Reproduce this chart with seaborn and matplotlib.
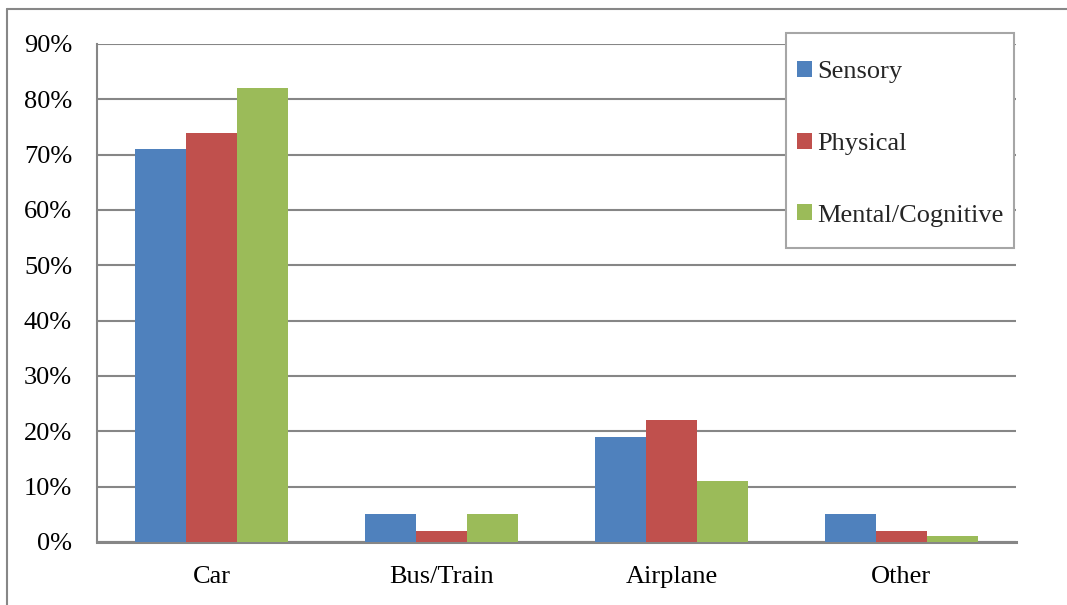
import matplotlib
matplotlib.use("Agg")
import matplotlib.pyplot as plt
from matplotlib.lines import Line2D
from matplotlib.patches import Rectangle
from matplotlib.ticker import FuncFormatter
import pandas as pd
import seaborn as sns

# Mode of travel by type of disability (share of respondents, %)
modes = ["Car", "Bus/Train", "Airplane", "Other"]
groups = ["Sensory", "Physical", "Mental/Cognitive"]
sensory = [71, 5, 19, 5]
physical = [74, 2, 22, 2]
mental = [82, 5, 11, 1]
y_ticks = [0, 10, 20, 30, 40, 50, 60, 70, 80, 90]
colors = ["#4F81BD", "#C0504D", "#9BBB59"]

rows = []
for g, vals in zip(groups, [sensory, physical, mental]):
    for m, v in zip(modes, vals):
        rows.append({"Mode": m, "Group": g, "Share": v})
df = pd.DataFrame(rows)

sns.set_theme(style="white")
plt.rcParams["font.family"] = ["Liberation Serif", "DejaVu Serif"]
grid_col = "#868686"
W, H = 1067, 605
FS = 19

fig = plt.figure(figsize=(W / 100, H / 100), dpi=100)
ax = fig.add_axes([97 / W, 1 - 542 / H, (1016 - 97) / W, (542 - 44) / H])

sns.barplot(data=df, x="Mode", y="Share", hue="Group", order=modes,
            hue_order=groups, palette=colors, width=0.665, saturation=1,
            linewidth=0, errorbar=None, ax=ax, zorder=3)

ax.set_xlim(-0.5, 3.5)
ax.set_ylim(0, 90)
ax.set_yticks(y_ticks)
ax.yaxis.set_major_formatter(FuncFormatter(lambda v, p: f"{v:.0f}%"))
ax.grid(axis="y", color=grid_col, linewidth=1.5, zorder=0)
ax.set_axisbelow(True)
ax.set_xlabel("")
ax.set_ylabel("")
ax.tick_params(axis="both", length=0, labelsize=FS, colors="black")
ax.tick_params(axis="y", pad=18)
ax.tick_params(axis="x", pad=17)
for s in ["top", "right"]:
    ax.spines[s].set_visible(False)
ax.spines["left"].set_color(grid_col)
ax.spines["left"].set_linewidth(1.5)
ax.spines["bottom"].set_color(grid_col)
ax.spines["bottom"].set_linewidth(2.2)

# Legend box, drawn as its own opaque frame
fig.add_artist(Rectangle((786 / W, 1 - 248 / H), (1014 - 786) / W, (248 - 33) / H,
                         transform=fig.transFigure, facecolor="white",
                         edgecolor="#A6A6A6", linewidth=1.5, zorder=4))

handles, labels = ax.get_legend_handles_labels()
ax.get_legend().remove()
leg = fig.legend(handles, labels, loc="upper left",
                 bbox_to_anchor=(797 / W, 1 - 61 / H),
                 frameon=False, fontsize=FS, handlelength=0.55,
                 handleheight=0.55, handletextpad=0.2, labelspacing=1.87,
                 borderpad=0, borderaxespad=0)
leg.set_zorder(5)

# Outer chart-area border (left and top edges)
x0 = 7 / W
y0 = 1 - 9 / H
fig.add_artist(Line2D([x0, x0], [0, y0], color="#878787", linewidth=1.5,
                      transform=fig.transFigure))
fig.add_artist(Line2D([x0, 1], [y0, y0], color="#878787", linewidth=1.5,
                      transform=fig.transFigure))

fig.savefig("out.png", dpi=100, facecolor="white")
